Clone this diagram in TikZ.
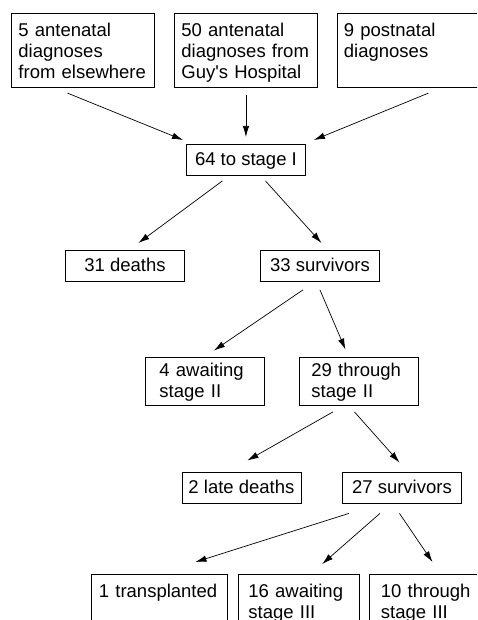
\documentclass[tikz,border=0pt]{standalone}
\usepackage{fontspec}
\setmainfont{Liberation Sans}
\usetikzlibrary{arrows.meta}

\begin{document}
\begin{tikzpicture}[x=1pt,y=-1pt,
  font=\fontsize{18.5}{21}\selectfont,
  every node/.style={draw, line width=0.9pt, anchor=north west, inner sep=0pt},
  topbox/.style={text width=129pt, inner xsep=7pt, inner ysep=9pt, text height=14.5pt, text depth=41.7pt, align=left},
  stepbox/.style={minimum width=119pt, inner ysep=8pt, text height=13.5pt, text depth=1.5pt},
  pairbox/.style={text width=95pt, inner xsep=12pt, inner ysep=6.5pt, text height=13.5pt, text depth=21.5pt, align=left},
  endbox/.style={text width=100.5pt, inner xsep=10pt, inner ysep=9.5pt, text height=13.5pt, text depth=25pt, align=left},
  arr/.style={-{Latex[length=11pt,width=6.5pt]}, line width=0.7pt}]
\useasboundingbox (0,0) rectangle (477,620);
\clip (0,0) rectangle (477,620);
\node[topbox](else) at (11,13){5 antenatal\\diagnoses\\from elsewhere};
\node[topbox](guys) at (174,13){50 antenatal\\diagnoses from\\Guy\textquotesingle s Hospital};
\node[topbox](post) at (336.5,13){9 postnatal\\diagnoses};
\node[stepbox](stage1) at (186,144){64 to stage I};
\draw[arr] ([xshift=-15.5pt,yshift=-5pt]else.south) -- ([xshift=-3pt,yshift=4pt]stage1.north west);
\draw[arr] ([yshift=-7pt]guys.south) -- ([yshift=7pt]stage1.north);
\draw[arr] ([xshift=92pt,yshift=-5pt]post.south west) -- ([xshift=8pt,yshift=4pt]stage1.north east);
\node[stepbox](deaths) at (65,250){31 deaths};
\node[stepbox](surv1) at (260,250){33 survivors};
\draw[arr] ([xshift=-23.5pt,yshift=-5pt]stage1.south) -- ([xshift=13.5pt,yshift=7pt]deaths.north);
\draw[arr] ([xshift=19.5pt,yshift=-5pt]stage1.south) -- ([xshift=1.5pt,yshift=7pt]surv1.north);
\node[pairbox, inner xsep=14pt, text width=91pt](await2) at (145,356.5){4 awaiting\\stage II};
\node[pairbox](thru2) at (299,356.5){29 through\\stage II};
\draw[arr] ([xshift=-17pt,yshift=-8pt]surv1.south) -- ([xshift=9pt,yshift=6pt]await2.north);
\draw[arr] ([yshift=-8pt]surv1.south) -- ([xshift=-13.5pt,yshift=7pt]thru2.north);
\node[stepbox](late) at (181.5,471.5){2 late deaths};
\node[stepbox](surv2) at (342,471.5){27 survivors};
\draw[arr] ([xshift=-26pt,yshift=-6.5pt]thru2.south) -- ([xshift=6pt,yshift=11pt]late.north);
\draw[arr] ([xshift=-4.5pt,yshift=-6.5pt]thru2.south) -- ([xshift=-2.5pt,yshift=9pt]surv2.north);
\node[endbox, text width=120pt, inner xsep=8pt](transp) at (90.5,574){1 transplanted};
\node[endbox](await3) at (238,574){16 awaiting\\stage III};
\node[endbox, inner xsep=12pt, text width=96.5pt](thru3) at (368.5,574){10 through\\stage III};
\draw[arr] ([xshift=-53pt,yshift=-10pt]surv2.south) -- ([xshift=36.5pt,yshift=12pt]transp.north);
\draw[arr] ([xshift=-22pt,yshift=-10pt]surv2.south) -- ([xshift=23.5pt,yshift=10pt]await3.north);
\draw[arr] ([xshift=-2.5pt,yshift=-10pt]surv2.south) -- ([xshift=64pt,yshift=12pt]thru3.north west);
\end{tikzpicture}
\end{document}
